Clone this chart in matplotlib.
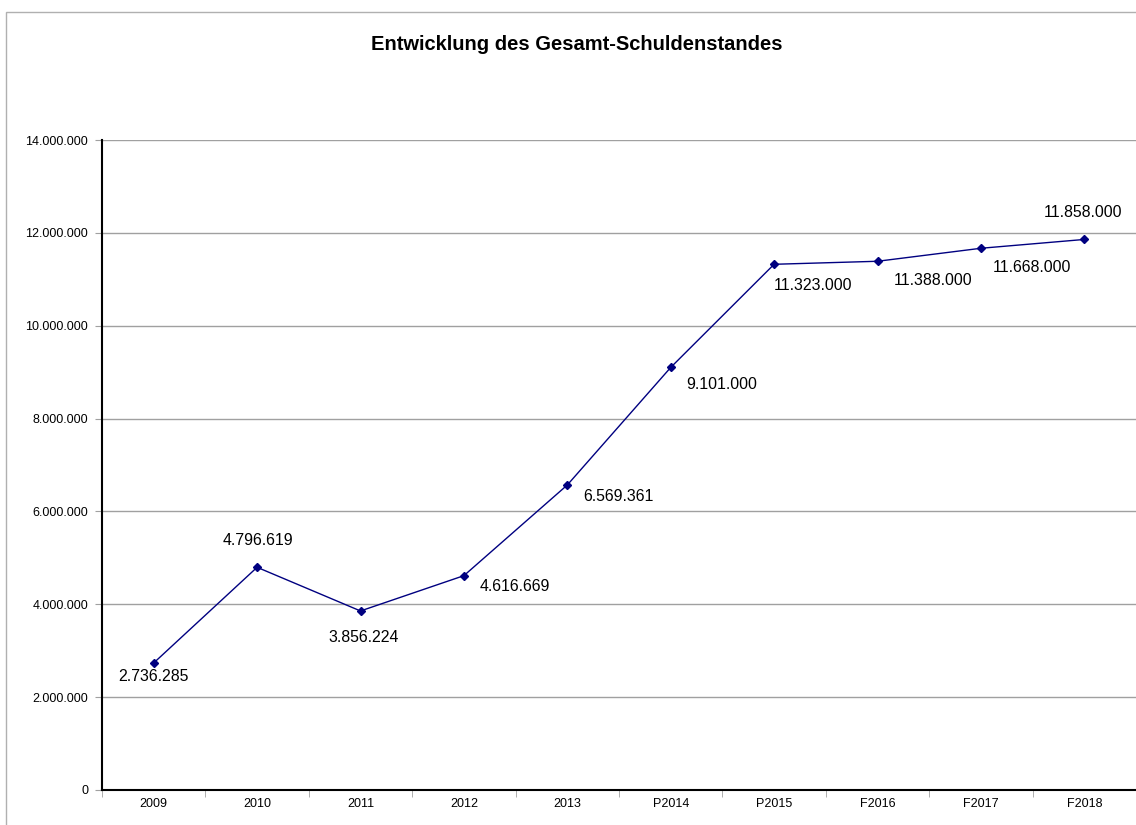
import matplotlib
matplotlib.use("Agg")
import matplotlib.pyplot as plt
from matplotlib.patches import Rectangle
from matplotlib.ticker import FuncFormatter, FixedLocator

plt.rcParams['font.family'] = ['Liberation Sans', 'DejaVu Sans']

# Debt level per year (P = plan, F = forecast)
years = ["2009", "2010", "2011", "2012", "2013", "P2014", "P2015", "F2016", "F2017", "F2018"]
debt = [2736285, 4796619, 3856224, 4616669, 6569361, 9101000, 11323000, 11388000, 11668000, 11858000]
# Label placement around each point: (dx, dy) in points
label_offsets = [(0, -9.5), (0.5, 19.4), (2, -19), (37, -7.5), (37, -8), (37, -12),
                 (28, -15), (40, -14), (37, -14), (-1, 19.4)]

W, H = 1136, 825
fig = plt.figure(figsize=(W / 100, H / 100), dpi=100)

# Outer chart frame
fig.patches.append(Rectangle((6 / W, -0.1), 1.2, 1 - 12 / H + 0.1, transform=fig.transFigure,
                             fill=False, edgecolor="#b0b0b0", linewidth=1.0, zorder=0))

left, right, top, bottom = 102, 1136, 140, 790
ax = fig.add_axes([left / W, 1 - bottom / H, (right - left) / W, (bottom - top) / H])

x = list(range(len(years)))
ax.plot(x, debt, color="#000080", linewidth=1.0, marker="D", markersize=4,
        markerfacecolor="#000080", markeredgecolor="#000080", zorder=3)

def fmt(v):
    return f"{int(round(v)):,}".replace(",", ".")

for xi, v, (dx, dy) in zip(x, debt, label_offsets):
    ax.annotate(fmt(v), (xi, v), xytext=(dx, dy), textcoords="offset points",
                ha="center", va="center", fontsize=11.4, color="black")

ax.set_xlim(-0.5, len(years) - 0.5)
ax.set_ylim(0, 14000000)
ax.yaxis.set_major_locator(FixedLocator(range(0, 14000001, 2000000)))
ax.yaxis.set_major_formatter(FuncFormatter(lambda v, p: fmt(v)))
ax.grid(axis="y", color="#a0a0a0", linewidth=1.0)
ax.set_axisbelow(True)

ax.set_xticks(x)
ax.set_xticklabels(years)
ax.set_xticks([i - 0.5 for i in range(len(years))], minor=True)
ax.tick_params(axis="x", which="major", length=0, pad=6, labelsize=9)
ax.tick_params(axis="x", which="minor", length=5, color="#a0a0a0", direction="out")
ax.tick_params(axis="y", length=5, color="#a0a0a0", direction="out", labelsize=9, pad=5)

for s in ["top", "right"]:
    ax.spines[s].set_visible(False)
ax.spines["left"].set_color("black")
ax.spines["bottom"].set_color("black")
ax.spines["left"].set_linewidth(1.5)
ax.spines["bottom"].set_linewidth(1.5)

fig.text(577 / W, 1 - 44 / H, "Entwicklung des Gesamt-Schuldenstandes", ha="center", va="center",
         fontsize=14.5, fontweight="bold")

fig.savefig("out.png", dpi=100)
